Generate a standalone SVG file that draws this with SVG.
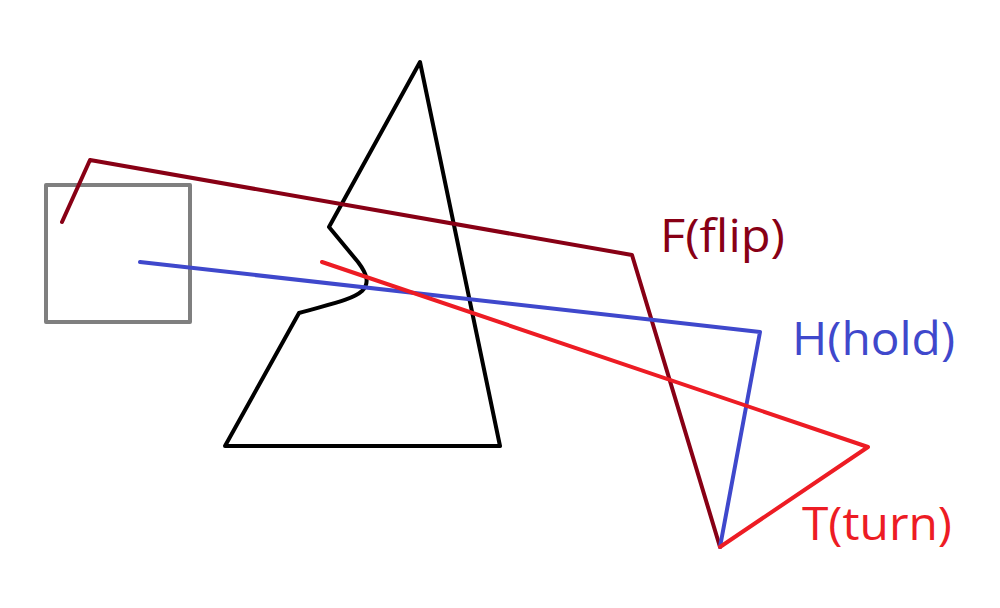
<svg xmlns="http://www.w3.org/2000/svg" width="1000" height="608" viewBox="0 0 1000 608">
<style>
.ln{fill:none;stroke-width:4;stroke-linejoin:round;stroke-linecap:round}
.lbl{font-family:"Open Sans","Noto Sans",sans-serif;font-size:46px}
</style>
<rect width="1000" height="608" fill="#ffffff"/>
<g id="box"><rect x="46" y="185" width="144" height="137" class="ln" stroke="#7f7f7f" stroke-linejoin="miter"/></g>
<g id="prism"><path d="M420,62 L500,446 L225,446 L299,313 C330,304 352,300 362,291 C370,283 367,274 358,262 L329,227 Z" class="ln" stroke="#000000"/></g>
<g id="connectors">
<polyline id="flip" points="62,222 90,160 632,255 720,547" class="ln" stroke="#880015"/>
<polyline id="hold" points="140,262 760,332 720,547" class="ln" stroke="#3f48cc"/>
<polyline id="turn" points="322,262 868,447 720,547" class="ln" stroke="#ed1c24"/>
</g>
<g id="labels">
<text x="660" y="252" class="lbl" fill="#880015" textLength="125" lengthAdjust="spacingAndGlyphs">F(flip)</text>
<text x="792" y="355" class="lbl" fill="#3f48cc" textLength="163" lengthAdjust="spacingAndGlyphs">H(hold)</text>
<text x="802" y="540" class="lbl" fill="#ed1c24" textLength="150" lengthAdjust="spacingAndGlyphs">T(turn)</text>
</g>
</svg>
